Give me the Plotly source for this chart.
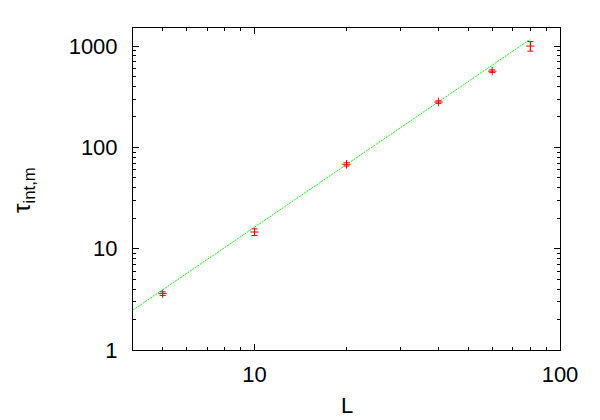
import plotly.graph_objects as go
import numpy as np

# data
L = [5, 10, 20, 40, 60, 80]
tau = [3.6, 14.6, 68, 280, 565, 1000]
tau_err = [0.15, 1.1, 2.5, 8, 18, 110]

# fitted power law line endpoints (straight on log-log)
fit_L = [4, 80]
fit_tau = [2.48, 1170]

x_major = [10, 100]
x_minor = [4, 5, 6, 7, 8, 9, 20, 30, 40, 50, 60, 70, 80, 90]
y_major = [1, 10, 100, 1000]
y_minor = [2, 3, 4, 5, 6, 7, 8, 9, 20, 30, 40, 50, 60, 70, 80, 90,
           200, 300, 400, 500, 600, 700, 800, 900]

fig = go.Figure()
fig.add_trace(go.Scatter(
    x=fit_L, y=fit_tau, mode="lines",
    line=dict(color="#00ff00", width=1, dash="2px,1px"),
    showlegend=False, hoverinfo="skip"))
fig.add_trace(go.Scatter(
    x=L, y=tau, mode="markers",
    marker=dict(symbol="cross-thin", size=6, line=dict(color="#ff0000", width=1), color="#ff0000"),
    error_y=dict(type="data", array=tau_err, color="#ff0000", thickness=1, width=3),
    showlegend=False))

font = "Liberation Sans, Arial, Helvetica, sans-serif"
axis_common = dict(
    type="log", showgrid=False, zeroline=False, showline=True, linecolor="black",
    linewidth=1, mirror="allticks", ticks="inside", ticklen=6, tickcolor="black",
    tickfont=dict(family=font, size=22, color="black"), tickmode="array",
    automargin=False,
)
fig.update_xaxes(**axis_common, range=[np.log10(4), 2], tickvals=x_major,
                 ticktext=[str(v) for v in x_major], ticklabelstandoff=5,
                 minor=dict(tickmode="array", tickvals=x_minor, ticks="inside", ticklen=3, tickcolor="black"))
fig.update_yaxes(**axis_common, range=[0, np.log10(1507)], tickvals=y_major,
                 ticktext=[str(v) for v in y_major], ticklabelstandoff=10,
                 minor=dict(tickmode="array", tickvals=y_minor, ticks="inside", ticklen=3, tickcolor="black"))

fig.update_layout(
    width=600, height=420,
    margin=dict(l=125, r=48, t=20, b=78, autoexpand=False),
    paper_bgcolor="white", plot_bgcolor="white",
    font=dict(family=font, color="black"),
    annotations=[
        dict(text="L", xref="paper", yref="paper", x=(347 - 133) / 427, y=-(405 - 350) / 322,
             showarrow=False, font=dict(size=22), xanchor="center", yanchor="middle"),
        dict(text="τ<sub>int,m</sub>", xref="paper", yref="paper", x=(24 - 133) / 427,
             y=(350 - 190) / 322, showarrow=False, font=dict(size=24), textangle=-90,
             xanchor="center", yanchor="middle"),
    ],
)
fig.write_html("out.html")
